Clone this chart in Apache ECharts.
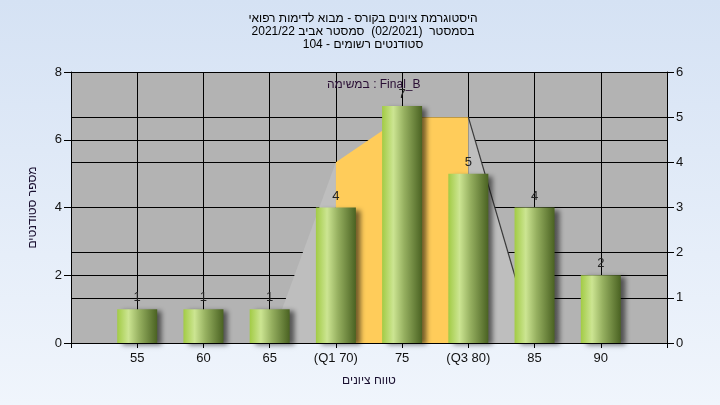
<!DOCTYPE html>
<html>
<head>
<meta charset="utf-8">
<script src="https://cdn.jsdelivr.net/npm/echarts@6/dist/echarts.min.js"></script>
<style>
html,body{margin:0;padding:0;}
#c{width:720px;height:405px;}
</style>
</head>
<body>
<div id="c"></div>
<script>
// ---- data ----
const titleLines = [
  'היסטוגרמת ציונים בקורס - מבוא לדימות רפואי',
  'בסמסטר  (02/2021)  סמסטר אביב 2021/22',
  'סטודנטים רשומים - 104'
];
const noteText = 'במשימה : Final_B';
const xAxisName = 'טווח ציונים';
const yAxisName = 'מספר סטודנטים';
const categories = [55, 60, 65, 70, 75, 80, 85, 90];
const tickLabels = ['55', '60', '65', '(Q1 70)', '75', '(Q3 80)', '85', '90'];
const barValues = [1, 1, 1, 4, 7, 5, 4, 2];
const curveX = [65, 70, 75, 80, 85];
const curveY = [0, 4, 5, 5, 0];
const q1 = 70, q3 = 80;

const FONT = "'Liberation Sans', 'DejaVu Sans', Arial, sans-serif";
const curvePts = curveX.map((x, i) => [x, curveY[i]]);
const leftPts = curvePts.filter(p => p[0] <= q1);
const midPts = curvePts.filter(p => p[0] >= q1 && p[0] <= q3);
const rightPts = curvePts.filter(p => p[0] >= q3);

const chart = echarts.init(document.getElementById('c'));
const barGrad = new echarts.graphic.LinearGradient(0, 0, 1, 0, [
  {offset: 0, color: '#a2cb45'},
  {offset: 0.28, color: '#cce592'},
  {offset: 0.55, color: '#96b060'},
  {offset: 1, color: '#4a6222'}
]);
chart.setOption({
  animation: false,
  backgroundColor: new echarts.graphic.LinearGradient(0, 0, 0, 1, [
    {offset: 0, color: '#d5e2f4'},
    {offset: 1, color: '#f0f5fc'}
  ]),
  title: {
    text: titleLines.join('\n'),
    left: 358, top: 7, textAlign: 'center',
    textStyle: {fontSize: 12, fontWeight: 'normal', color: '#000', lineHeight: 13, fontFamily: FONT}
  },
  graphic: [{
    type: 'text', left: 327, top: 79, z: 100,
    style: {text: noteText, fontSize: 12, fill: '#2a0f35', font: '12px ' + FONT}
  }],
  grid: {left: 71, right: 53, top: 72, bottom: 62, show: true, backgroundColor: '#b3b3b3', borderWidth: 0},
  xAxis: {
    type: 'value', min: 50, max: 95, interval: 5,
    name: xAxisName, nameLocation: 'middle', nameGap: 32,
    nameTextStyle: {fontSize: 12, color: '#1a1030', fontFamily: FONT},
    axisLine: {show: true, lineStyle: {color: '#000', width: 1}},
    axisTick: {show: true, length: 5, lineStyle: {color: '#000'}},
    axisLabel: {
      margin: 9, fontSize: 13, color: '#111', fontFamily: FONT,
      formatter: v => { const i = categories.indexOf(v); return i >= 0 ? tickLabels[i] : ''; }
    },
    splitLine: {show: true, lineStyle: {color: '#000', width: 1}}
  },
  yAxis: [{
    type: 'value', min: 0, max: 8, interval: 2, position: 'left',
    name: yAxisName, nameLocation: 'middle', nameGap: 32,
    nameTextStyle: {fontSize: 12, color: '#1a1030', fontFamily: FONT},
    axisLine: {show: true, lineStyle: {color: '#000', width: 1}},
    axisTick: {show: true, length: 7, lineStyle: {color: '#000'}},
    axisLabel: {margin: 9, fontSize: 13, color: '#111', fontFamily: FONT},
    splitLine: {show: true, lineStyle: {color: '#000', width: 1}}
  }, {
    type: 'value', min: 0, max: 6, interval: 1, position: 'right',
    axisLine: {show: true, lineStyle: {color: '#000', width: 1}},
    axisTick: {show: true, length: 7, lineStyle: {color: '#000'}},
    axisLabel: {margin: 9, fontSize: 13, color: '#111', fontFamily: FONT},
    splitLine: {show: true, lineStyle: {color: '#000', width: 1}}
  }],
  series: [{
    type: 'line', yAxisIndex: 1, data: leftPts, symbol: 'none', silent: true, z: 1,
    lineStyle: {width: 0, opacity: 0},
    areaStyle: {color: '#bebebe', opacity: 1}
  }, {
    type: 'line', yAxisIndex: 1, data: midPts, symbol: 'none', silent: true, z: 1,
    lineStyle: {width: 0, opacity: 0},
    areaStyle: {color: '#ffcc5a', opacity: 1}
  }, {
    type: 'line', yAxisIndex: 1, data: rightPts, symbol: 'none', silent: true, z: 1,
    lineStyle: {width: 1.2, color: '#3a3a3a'},
    areaStyle: {color: '#bebebe', opacity: 1}
  }, {
    type: 'bar', yAxisIndex: 0, barWidth: 40, z: 5,
    data: categories.map((c, i) => [c, barValues[i]]),
    itemStyle: {
      color: barGrad,
      shadowColor: 'rgba(0,0,0,0.55)', shadowBlur: 5, shadowOffsetX: 5, shadowOffsetY: 2
    },
    label: {show: true, position: 'top', distance: 5, fontSize: 13, color: '#222', fontFamily: FONT}
  }]
});
</script>
</body>
</html>
